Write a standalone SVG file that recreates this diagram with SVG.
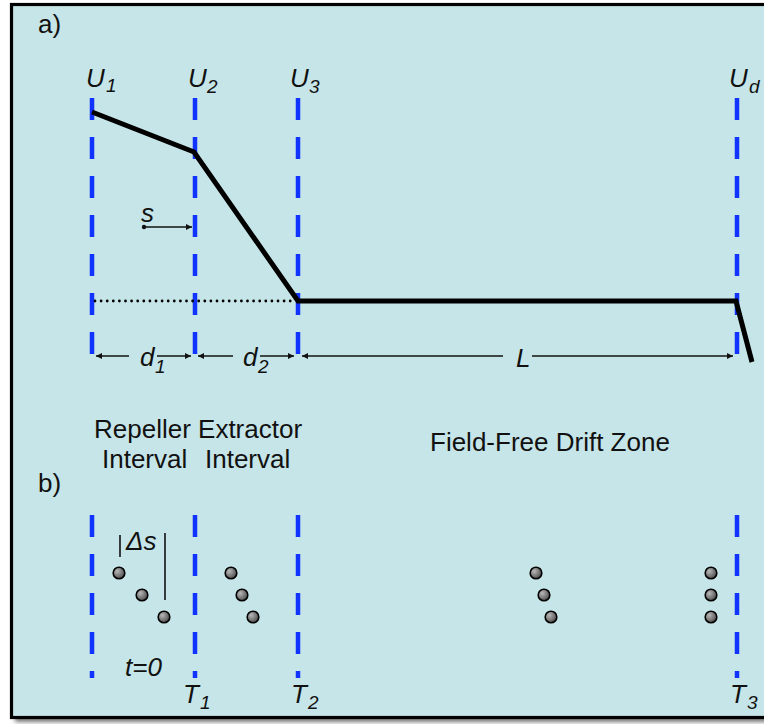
<svg xmlns="http://www.w3.org/2000/svg" width="764" height="724" viewBox="0 0 764 724">
<defs>
<style>
text{font-family:"Liberation Sans",Arial,sans-serif;font-size:26px;fill:#111;}
.it{font-style:italic;}
.sub{font-size:19px;font-style:italic;}
.grid{stroke:#1133ff;stroke-width:4.5;stroke-dasharray:22 17;fill:none;}
.dim{stroke:#111;stroke-width:1.3;fill:none;}
.ion{fill:url(#ionGrad);stroke:#000;stroke-width:1.6;}
</style>
<radialGradient id="ionGrad" cx="0.35" cy="0.35" r="0.7">
<stop offset="0" stop-color="#b8b8b8"/>
<stop offset="1" stop-color="#4a4a4a"/>
</radialGradient>
<marker id="ah" viewBox="0 0 10 10" refX="10" refY="5" markerWidth="7" markerHeight="6" markerUnits="userSpaceOnUse" orient="auto-start-reverse">
<path d="M0,0 L10,5 L0,10 Z" fill="#111"/>
</marker>
<filter id="sh" x="-5%" y="-5%" width="110%" height="110%">
<feGaussianBlur stdDeviation="2"/>
</filter>
</defs>
<rect x="0" y="0" width="764" height="724" fill="#ffffff"/>
<rect x="15" y="9" width="770" height="713" fill="#777" filter="url(#sh)"/>
<rect id="frame" x="11.5" y="4.5" width="770" height="713" fill="#c6e5e8" stroke="#000" stroke-width="3.2"/>

<text x="38" y="33">a)</text>
<text x="38" y="492">b)</text>

<g id="electrodes-top">
<g id="U1"><line class="grid" x1="92" y1="98" x2="92" y2="355"/><text class="it" x="86" y="87">U</text><text class="sub" x="106" y="92">1</text></g>
<g id="U2"><line class="grid" x1="195" y1="98" x2="195" y2="355"/><text class="it" x="188" y="87">U</text><text class="sub" x="207" y="93">2</text></g>
<g id="U3"><line class="grid" x1="298" y1="98" x2="298" y2="355"/><text class="it" x="290" y="87">U</text><text class="sub" x="309" y="93">3</text></g>
<g id="Ud"><line class="grid" x1="737" y1="98" x2="737" y2="355"/><text class="it" x="729" y="87">U</text><text class="sub" x="749" y="93">d</text></g>
</g>

<g id="potential">
<polyline points="92,112 194,152 298,301 736,301 752,362" fill="none" stroke="#000" stroke-width="5" stroke-linejoin="miter"/>
<line x1="95" y1="301" x2="296" y2="301" stroke="#000" stroke-width="2.8" stroke-linecap="round" stroke-dasharray="0 6.1"/>
</g>

<g id="connectors">
<circle cx="144" cy="227" r="2.2" fill="#111"/>
<line class="dim" x1="144" y1="227" x2="192" y2="227" marker-end="url(#ah)"/>
<line class="dim" x1="96" y1="356" x2="129" y2="356" marker-start="url(#ah)"/>
<line class="dim" x1="157" y1="356" x2="191" y2="356" marker-end="url(#ah)"/>
<line class="dim" x1="198" y1="356" x2="233" y2="356" marker-start="url(#ah)"/>
<line class="dim" x1="260" y1="356" x2="294" y2="356" marker-end="url(#ah)"/>
<line class="dim" x1="302" y1="356" x2="503" y2="356" marker-start="url(#ah)"/>
<line class="dim" x1="532" y1="356" x2="733" y2="356" marker-end="url(#ah)"/>
<line x1="120" y1="535" x2="120" y2="557" stroke="#111" stroke-width="1.6"/>
<line x1="165" y1="533" x2="165" y2="600" stroke="#111" stroke-width="1.6"/>
</g>

<g id="labels">
<text class="it" x="141" y="222">s</text>
<text class="it" x="140" y="366">d</text><text class="sub" x="155" y="373">1</text>
<text class="it" x="243" y="366">d</text><text class="sub" x="258" y="373">2</text>
<text class="it" x="516" y="367">L</text>
<text x="94" y="438">Repeller Extractor</text>
<text x="102" y="468">Interval</text>
<text x="205" y="468">Interval</text>
<text x="430" y="451">Field-Free Drift Zone</text>
<text class="it" x="126" y="550">Δs</text>
<text class="it" x="125" y="676">t=0</text>
</g>

<g id="electrodes-bottom">
<g id="T0"><line class="grid" x1="92" y1="515" x2="92" y2="678"/></g>
<g id="T1"><line class="grid" x1="195" y1="515" x2="195" y2="678"/><text class="it" x="183" y="703">T</text><text class="sub" x="200" y="709">1</text></g>
<g id="T2"><line class="grid" x1="298" y1="515" x2="298" y2="678"/><text class="it" x="291" y="703">T</text><text class="sub" x="308" y="709">2</text></g>
<g id="T3"><line class="grid" x1="737" y1="515" x2="737" y2="678"/><text class="it" x="730" y="703">T</text><text class="sub" x="747" y="709">3</text></g>
</g>

<g id="ions">
<circle class="ion" cx="119" cy="573" r="5.8"/>
<circle class="ion" cx="142" cy="595" r="5.8"/>
<circle class="ion" cx="164" cy="617" r="5.8"/>
<circle class="ion" cx="231" cy="573" r="5.8"/>
<circle class="ion" cx="242" cy="595" r="5.8"/>
<circle class="ion" cx="253" cy="617" r="5.8"/>
<circle class="ion" cx="536" cy="573" r="5.8"/>
<circle class="ion" cx="544" cy="595" r="5.8"/>
<circle class="ion" cx="551" cy="617" r="5.8"/>
<circle class="ion" cx="711" cy="573" r="5.8"/>
<circle class="ion" cx="711" cy="595" r="5.8"/>
<circle class="ion" cx="711" cy="617" r="5.8"/>
</g>
</svg>
